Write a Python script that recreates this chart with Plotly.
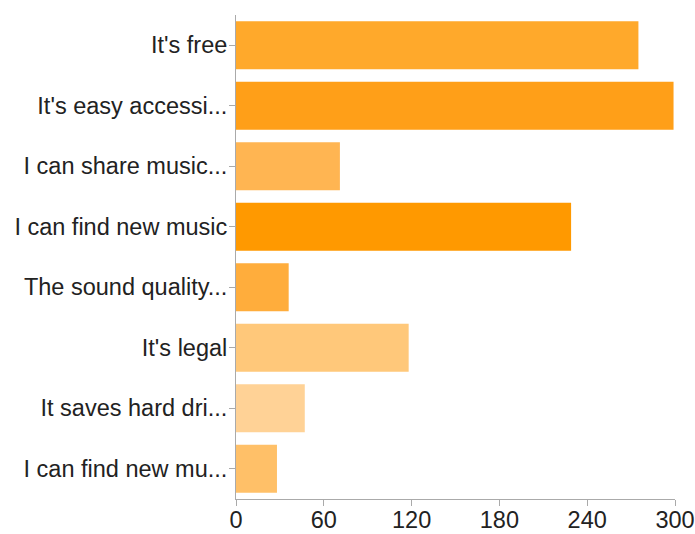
import plotly.graph_objects as go

categories = [
    "It's free",
    "It's easy accessi...",
    "I can share music...",
    "I can find new music",
    "The sound quality...",
    "It's legal",
    "It saves hard dri...",
    "I can find new mu...",
]
values = [275, 299, 71, 229, 36, 118, 47, 28]
colors = ["#FFA92B", "#FF9F18", "#FFB552", "#FF9900", "#FFAD3C", "#FFC87A", "#FFD296", "#FFC068"]
x_ticks = [0, 60, 120, 180, 240, 300]

fig = go.Figure(
    go.Bar(
        x=values,
        y=categories,
        orientation="h",
        marker=dict(color=colors, line=dict(width=0)),
        hoverinfo="x+y",
    )
)

fig.update_layout(
    width=695,
    height=534,
    margin=dict(l=236, r=20, t=15, b=35, autoexpand=False),
    plot_bgcolor="white",
    paper_bgcolor="white",
    bargap=0.21,
    showlegend=False,
    font=dict(family="Liberation Sans, Arial, Helvetica, sans-serif", size=23.5, color="#222222"),
)
fig.update_xaxes(
    range=[0, 300],
    tickvals=x_ticks,
    ticktext=[str(t) for t in x_ticks],
    showgrid=False,
    zeroline=False,
    showline=True,
    linecolor="#AAAAAA",
    linewidth=1,
    ticks="outside",
    ticklen=6,
    tickcolor="#AAAAAA",
    ticklabelstandoff=-6,
    automargin=False,
    tickfont=dict(size=23.5, color="#222222"),
)
fig.update_yaxes(
    categoryorder="array",
    categoryarray=categories[::-1],
    showgrid=False,
    zeroline=False,
    showline=True,
    linecolor="#AAAAAA",
    linewidth=1,
    ticks="outside",
    ticklen=6,
    tickcolor="#AAAAAA",
    ticklabelstandoff=-3,
    automargin=False,
    tickfont=dict(size=23.5, color="#222222"),
)

fig.write_html("out.html")
